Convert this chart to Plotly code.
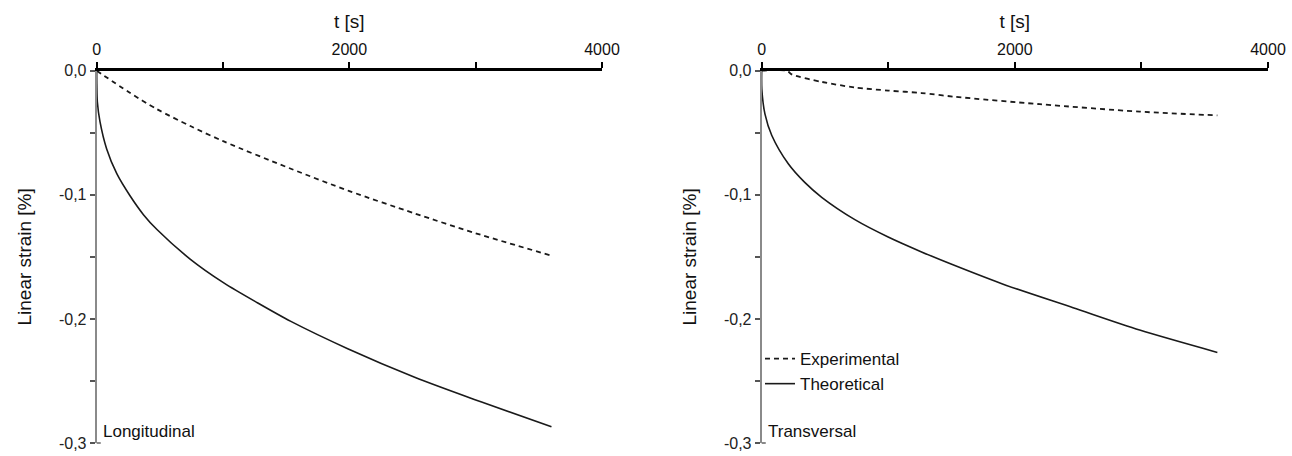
import plotly.graph_objects as go

# ---- data ----
t_long_theo = [0, 1, 5, 26, 79, 159, 265, 370, 477, 742, 1006, 1272, 1537, 1987, 2517, 3047, 3600]
e_long_theo = [0, -0.012, -0.025, -0.041, -0.063, -0.083, -0.101, -0.116, -0.128, -0.152, -0.171, -0.187, -0.202, -0.224, -0.247, -0.267, -0.287]
t_long_exp = [0, 250, 477, 750, 1006, 1537, 2000, 2517, 3000, 3600]
e_long_exp = [0, -0.017, -0.031, -0.045, -0.057, -0.079, -0.097, -0.115, -0.131, -0.149]

t_trans_theo = [0, 1, 26, 79, 210, 340, 474, 736, 999, 1263, 1526, 1934, 2460, 2986, 3600]
e_trans_theo = [0, -0.015, -0.035, -0.052, -0.075, -0.090, -0.102, -0.120, -0.134, -0.146, -0.157, -0.173, -0.191, -0.209, -0.227]
t_trans_exp = [0, 200, 237, 474, 736, 999, 1263, 1526, 2197, 2986, 3600]
e_trans_exp = [0, 0, -0.003, -0.009, -0.0135, -0.016, -0.018, -0.021, -0.027, -0.033, -0.036]

x_tickvals = [0, 1000, 2000, 3000, 4000]
x_ticktext = ["0", "", "2000", "", "4000"]
y_tickvals = [0, -0.05, -0.1, -0.15, -0.2, -0.25, -0.3]
y_ticktext = ["0,0", "", "-0,1", "", "-0,2", "", "-0,3"]

panel_labels = ["Longitudinal", "Transversal"]
series_names = ["Experimental", "Theoretical"]

FONT = "Liberation Sans, Arial, sans-serif"
W, H = 1292, 456

fig = go.Figure()

line_exp = dict(color="#1a1a1a", width=1.8, dash="5px,4px", shape="spline", smoothing=0.8)
line_theo = dict(color="#1a1a1a", width=1.6, shape="spline", smoothing=0.8)

fig.add_trace(go.Scatter(x=t_long_exp, y=e_long_exp, mode="lines", line=line_exp,
                         xaxis="x", yaxis="y", showlegend=False, name=series_names[0]))
fig.add_trace(go.Scatter(x=t_long_theo, y=e_long_theo, mode="lines", line=line_theo,
                         xaxis="x", yaxis="y", showlegend=False, name=series_names[1]))
fig.add_trace(go.Scatter(x=t_trans_exp, y=e_trans_exp, mode="lines", line=line_exp,
                         xaxis="x2", yaxis="y2", showlegend=True, name=series_names[0]))
fig.add_trace(go.Scatter(x=t_trans_theo, y=e_trans_theo, mode="lines", line=line_theo,
                         xaxis="x2", yaxis="y2", showlegend=True, name=series_names[1]))

ydom = [(H - 443) / H, (H - 70.7) / H]
x1dom = [96.7 / W, 602 / W]
x2dom = [761.7 / W, 1268 / W]

def xaxis_cfg(dom, anchor):
    return dict(domain=dom, anchor=anchor, side="top", range=[0, 4000],
                showline=True, linecolor="#000000", linewidth=3,
                ticks="outside", ticklen=6, tickwidth=1.5, tickcolor="#000000",
                tickvals=x_tickvals, ticktext=x_ticktext,
                tickfont=dict(family=FONT, size=16, color="#111111"),
                title=dict(text="t [s]", font=dict(family=FONT, size=19, color="#111111"), standoff=8),
                showgrid=False, zeroline=False, automargin=False)

def yaxis_cfg(dom, anchor):
    return dict(domain=dom, anchor=anchor, range=[-0.3, 0],
                showline=True, linecolor="#8a8a8a", linewidth=2,
                ticks="outside", ticklen=5, tickwidth=1.5, tickcolor="#555555",
                tickvals=y_tickvals, ticktext=y_ticktext,
                tickfont=dict(family=FONT, size=16, color="#222222"),
                title=dict(text="Linear strain [%]", font=dict(family=FONT, size=19, color="#111111"), standoff=22),
                showgrid=False, zeroline=False, automargin=False)

fig.update_layout(
    width=W, height=H,
    margin=dict(l=0, r=0, t=0, b=0),
    paper_bgcolor="white", plot_bgcolor="white",
    font=dict(family=FONT, size=16, color="#111111"),
    xaxis=xaxis_cfg(x1dom, "y"),
    yaxis=yaxis_cfg(ydom, "x"),
    xaxis2=xaxis_cfg(x2dom, "y2"),
    yaxis2=yaxis_cfg(ydom, "x2"),
    legend=dict(x=760 / W, y=(H - 341) / H, xanchor="left", yanchor="top",
                bgcolor="rgba(0,0,0,0)", borderwidth=0,
                font=dict(family=FONT, size=17, color="#111111"),
                tracegroupgap=0, itemwidth=30),
)

for i, (xr, yr) in enumerate([("x", "y"), ("x2", "y2")]):
    fig.add_annotation(text=panel_labels[i], xref=f"{xr} domain", yref=f"{yr} domain",
                       x=0.008, y=0, xanchor="left", yanchor="bottom", showarrow=False,
                       font=dict(family=FONT, size=17, color="#111111"))
    fig.add_shape(type="line", xref=f"{xr} domain", yref=f"{yr} domain",
                  x0=0, x1=0.008, y0=0, y1=0, line=dict(color="#8a8a8a", width=2))

fig.write_html("out.html")
